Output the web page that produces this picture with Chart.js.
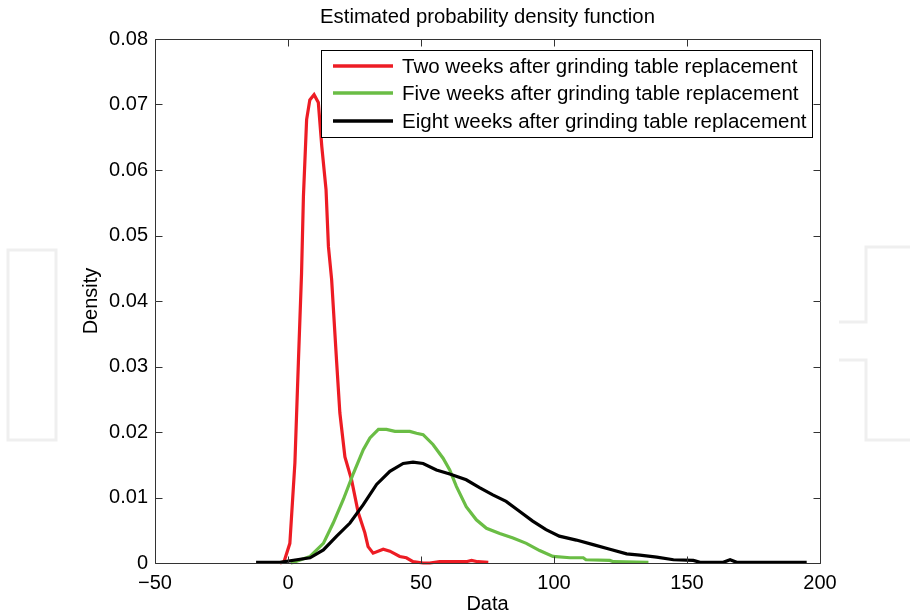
<!DOCTYPE html>
<html>
<head>
<meta charset="utf-8">
<script src="https://cdn.jsdelivr.net/npm/chart.js@4/dist/chart.umd.min.js"></script>
<style>
html,body{margin:0;padding:0;background:#fff;}
#wrap{position:relative;width:910px;height:616px;}
</style>
</head>
<body>
<div id="wrap"><canvas id="c" width="910" height="616"></canvas></div>
<script>
// ---- data ----
const seriesNames = [
  "Two weeks after grinding table replacement",
  "Five weeks after grinding table replacement",
  "Eight weeks after grinding table replacement"
];
const twoWeeksX = [-3,-1.5,0.7,2.6,3.9,5.1,5.8,7.0,8.2,9.8,11.4,12.7,14.3,15.2,16.4,18.3,19.5,21.4,23.9,26.4,28.9,30.1,32,35.8,38.3,42,44.5,47,50.8,53.3,57,67,69,71.3,75.3];
const twoWeeksY = [0,0.0002,0.003,0.0153,0.0306,0.0443,0.056,0.0677,0.0707,0.0715,0.0703,0.0636,0.057,0.0483,0.0433,0.0306,0.0229,0.0162,0.0127,0.0077,0.0046,0.0025,0.0015,0.0021,0.0018,0.001,0.0008,0.0002,0,0,0.0002,0.0002,0.0004,0.0002,0.0001];
const fiveWeeksX = [1,2,8.3,13.3,17,20.8,24.6,28.3,30.8,34,37,40.2,45.8,48.3,50.8,54.5,58.3,60.8,63.3,67,70.8,74.6,79.6,84.6,89.6,94.6,99.6,106,111,112,121,122.3,135.5];
const fiveWeeksY = [0,0.0001,0.001,0.003,0.0061,0.0097,0.0137,0.0173,0.0191,0.0204,0.0204,0.0201,0.0201,0.0198,0.0196,0.0181,0.016,0.0142,0.0117,0.0086,0.0066,0.0053,0.0045,0.0038,0.003,0.0019,0.001,0.0008,0.0008,0.0005,0.0004,0.0002,0.0001];
const eightWeeksX = [-12,-3,3.3,8.3,13.3,18.3,23.3,28.3,33.3,38.3,43.3,47,50.8,55.8,60.8,67,72,77,82,87,92,97,102,108.4,114.7,121,127.3,132.3,138.6,144.9,152.4,154.9,163.6,166.2,168.7,195];
const eightWeeksY = [0.0001,0.0001,0.0005,0.0008,0.002,0.0041,0.0061,0.0089,0.012,0.014,0.0152,0.0154,0.0152,0.0142,0.0136,0.0127,0.0115,0.0104,0.0094,0.0079,0.0064,0.0051,0.0041,0.0035,0.0028,0.0021,0.0014,0.0012,0.0009,0.0005,0.0004,0.0001,0.0001,0.0005,0.0001,0.0001];
const xTicks = [-50,0,50,100,150,200];
const yTicks = [0,0.01,0.02,0.03,0.04,0.05,0.06,0.07,0.08];
const yTickLabels = ["0","0.01","0.02","0.03","0.04","0.05","0.06","0.07","0.08"];
const titleText = "Estimated probability density function";
const xTitle = "Data";
const yTitle = "Density";

const colors = ["#ed1c24", "#6abd45", "#000000"];
const FONT = "'Liberation Sans', Arial, Helvetica, sans-serif";

function pts(xs, ys){ return xs.map((x,i)=>({x:x, y:ys[i]})); }

const boxPlugin = {
  id: 'matlabBox',
  beforeDraw(chart){
    const ctx = chart.ctx;
    ctx.save();
    ctx.fillStyle = '#fff';
    ctx.fillRect(0,0,chart.width,chart.height);
    // faint watermark outlines
    ctx.strokeStyle = '#efefef';
    ctx.lineWidth = 3;
    ctx.strokeRect(8, 250, 48, 190);
    ctx.beginPath();
    ctx.moveTo(839, 322); ctx.lineTo(866, 322); ctx.lineTo(866, 247); ctx.lineTo(912, 247);
    ctx.moveTo(839, 360); ctx.lineTo(866, 360); ctx.lineTo(866, 440); ctx.lineTo(912, 440);
    ctx.stroke();
    ctx.restore();
  },
  afterDraw(chart){
    const ctx = chart.ctx;
    const a = chart.chartArea;
    const xs = chart.scales.x, ys = chart.scales.y;
    ctx.save();
    ctx.strokeStyle = '#333';
    ctx.lineWidth = 1;
    const L = Math.round(a.left)+0.5, R = Math.round(a.right)+0.5, T = Math.round(a.top)+0.5, B = Math.round(a.bottom)+0.5;
    ctx.beginPath();
    ctx.rect(L, T, R-L, B-T);
    const tl = 7;
    xTicks.forEach(v=>{
      const px = Math.round(xs.getPixelForValue(v))+0.5;
      ctx.moveTo(px, B); ctx.lineTo(px, B-tl);
      ctx.moveTo(px, T); ctx.lineTo(px, T+tl);
    });
    yTicks.forEach(v=>{
      const py = Math.round(ys.getPixelForValue(v))+0.5;
      ctx.moveTo(L, py); ctx.lineTo(L+tl, py);
      ctx.moveTo(R, py); ctx.lineTo(R-tl, py);
    });
    ctx.stroke();

    // title
    ctx.fillStyle = '#000';
    ctx.font = '20.3px ' + FONT;
    ctx.textAlign = 'center';
    ctx.textBaseline = 'middle';
    ctx.fillText(titleText, (a.left+a.right)/2, 17);

    // legend
    const lx = 321, ly = 50, lw = 491, lh = 87;
    ctx.fillStyle = '#fff';
    ctx.fillRect(lx, ly, lw, lh);
    ctx.strokeStyle = '#000';
    ctx.lineWidth = 1;
    ctx.strokeRect(lx+0.5, ly+0.5, lw, lh);
    const rows = [66, 93, 121];
    ctx.font = '20.5px ' + FONT;
    ctx.textAlign = 'left';
    ctx.textBaseline = 'middle';
    seriesNames.forEach((n,i)=>{
      ctx.strokeStyle = colors[i];
      ctx.lineWidth = 3.5;
      ctx.beginPath();
      ctx.moveTo(333, rows[i]); ctx.lineTo(393, rows[i]);
      ctx.stroke();
      ctx.fillStyle = '#000';
      ctx.fillText(n, 402, rows[i]+1);
    });
    ctx.restore();
  }
};

new Chart(document.getElementById('c'), {
  type: 'scatter',
  data: {
    datasets: [
      {label: seriesNames[0], data: pts(twoWeeksX, twoWeeksY), borderColor: colors[0], order: 3},
      {label: seriesNames[1], data: pts(fiveWeeksX, fiveWeeksY), borderColor: colors[1], order: 2},
      {label: seriesNames[2], data: pts(eightWeeksX, eightWeeksY), borderColor: colors[2], order: 1}
    ].map(d=>Object.assign(d, {showLine: true, pointRadius: 0, borderWidth: 3.2, tension: 0, fill: false, clip: 4}))
  },
  options: {
    responsive: false,
    animation: false,
    events: [],
    layout: {padding: {top: 39, right: 90, bottom: 0, left: 0}},
    plugins: {legend: {display: false}, title: {display: false}, tooltip: {enabled: false}},
    scales: {
      x: {
        type: 'linear', min: -50, max: 200,
        afterBuildTicks(s){ s.ticks = xTicks.map(v=>({value:v})); },
        afterFit(s){ s.height = 53; },
        grid: {display: false, drawTicks: false},
        border: {display: false},
        ticks: {color: '#000', font: {family: FONT, size: 20}, padding: 8, maxRotation: 0,
          callback: v => (v < 0 ? '\u2212' + Math.abs(v) : String(v))},
        title: {display: true, text: xTitle, color: '#000', font: {family: FONT, size: 20}, padding: {top: 0, bottom: 0}}
      },
      y: {
        type: 'linear', min: 0, max: 0.08,
        afterBuildTicks(s){ s.ticks = yTicks.map(v=>({value:v})); },
        afterFit(s){ s.width = 155; },
        grid: {display: false, drawTicks: false},
        border: {display: false},
        ticks: {color: '#000', font: {family: FONT, size: 20}, padding: 7,
          callback: (v) => { const i = yTicks.findIndex(t=>Math.abs(t-v)<1e-9); return i>=0 ? yTickLabels[i] : ''; }},
        title: {display: true, text: yTitle, color: '#000', font: {family: FONT, size: 20}, padding: {top: 79, bottom: 0}}
      }
    }
  },
  plugins: [boxPlugin]
});
</script>
</body>
</html>
